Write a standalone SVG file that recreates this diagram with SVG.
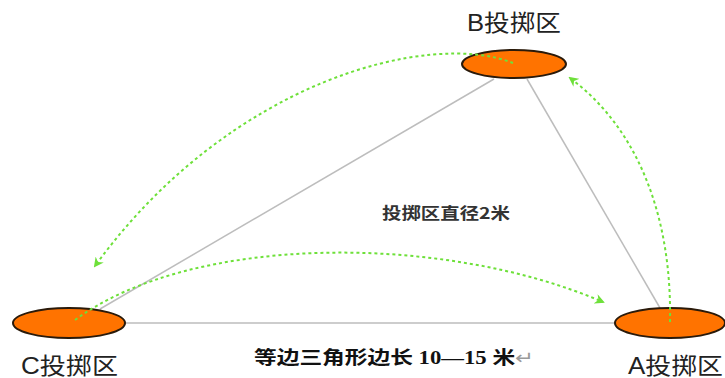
<svg xmlns="http://www.w3.org/2000/svg" width="725" height="378" viewBox="0 0 725 378">
<style>
.zone{fill:#ff7300;stroke:#2a1a0a;stroke-width:2}
.edge{stroke:#bdbdbd;stroke-width:1.5;fill:none}
.throw{stroke:#6ee03a;stroke-width:2;fill:none;stroke-dasharray:3 3;marker-end:url(#ah)}
.lbl{font-family:"Liberation Sans","Noto Sans CJK SC",sans-serif;font-size:23px;fill:#222}
.mid{font-family:"Noto Sans CJK SC",sans-serif;font-size:16px;font-weight:bold;fill:#333}
.note{font-family:"Liberation Serif","Noto Sans CJK SC",serif;font-size:18px;font-weight:bold;fill:#111}
.ret{fill:#9a9a9a;font-weight:normal}
</style>
<defs>
<marker id="ah" viewBox="0 0 10 10" refX="8" refY="5" markerWidth="5" markerHeight="5" orient="auto" markerUnits="strokeWidth">
<path d="M0,0 L10,5 L0,10 L3,5 Z" fill="#6ee03a"/>
</marker>
</defs>
<rect width="725" height="378" fill="#fff"/>
<g id="triangle">
<line class="edge" x1="494" y1="79" x2="100" y2="309"/>
<line class="edge" x1="527" y1="79" x2="660" y2="308"/>
<line class="edge" x1="125" y1="323" x2="615" y2="323"/>
</g>
<g id="zoneB">
<ellipse class="zone" cx="514" cy="64" rx="52" ry="14"/>
<text class="lbl" x="514" y="31" text-anchor="middle" textLength="94" lengthAdjust="spacingAndGlyphs">B投掷区</text>
</g>
<g id="zoneC">
<ellipse class="zone" cx="69" cy="323" rx="56" ry="15"/>
<text class="lbl" x="21" y="374" textLength="97" lengthAdjust="spacingAndGlyphs">C投掷区</text>
</g>
<g id="zoneA">
<ellipse class="zone" cx="670" cy="323" rx="55" ry="15"/>
<text class="lbl" x="628" y="374" textLength="95" lengthAdjust="spacingAndGlyphs">A投掷区</text>
</g>
<g id="connectors">
<path class="throw" d="M513,63 C430,30 230,80 95,266"/>
<path class="throw" d="M75,320 C190,235 440,232 603,302"/>
<path class="throw" d="M670,322 C672,220 640,130 570,78"/>
</g>
<text class="mid" x="382" y="219" textLength="128" lengthAdjust="spacingAndGlyphs">投掷区直径2米</text>
<text class="note" x="254" y="364" textLength="280" lengthAdjust="spacingAndGlyphs">等边三角形边长 10—15 米<tspan class="ret">↵</tspan></text>
</svg>
